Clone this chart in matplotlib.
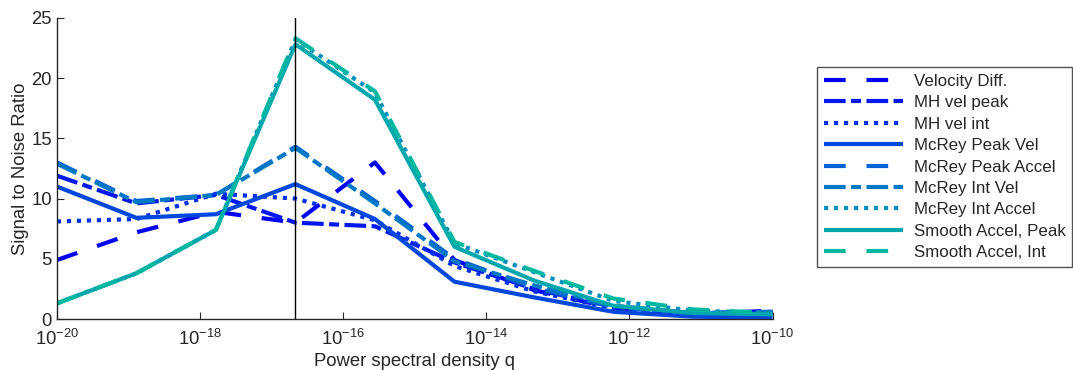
import numpy as np
import matplotlib
matplotlib.use("Agg")
import matplotlib.pyplot as plt

plt.rcParams['font.family'] = ['Liberation Sans', 'DejaVu Sans']
plt.rcParams['mathtext.fontset'] = 'custom'
plt.rcParams['mathtext.rm'] = 'Liberation Sans'
plt.rcParams['mathtext.it'] = 'Liberation Sans:italic'
plt.rcParams['mathtext.bf'] = 'Liberation Sans:bold'
plt.rcParams['axes.unicode_minus'] = False

# power spectral density values (10 log-spaced points)
q = np.logspace(-20, -10, 10)
q_marker = q[3]

labels = ['Velocity Diff.', 'MH vel peak', 'MH vel int', 'McRey Peak Vel',
          'McRey Peak Accel', 'McRey Int Vel', 'McRey Int Accel',
          'Smooth Accel, Peak', 'Smooth Accel, Int']

vel_diff = [4.9, 7.2, 8.9, 8.0, 13.0, 4.9, 2.4, 0.9, 0.4, 0.7]
mh_vel_peak = [11.9, 9.6, 10.3, 8.0, 7.7, 4.7, 2.5, 1.0, 0.5, 0.6]
mh_vel_int = [8.1, 8.3, 10.4, 10.0, 8.2, 4.4, 2.3, 0.9, 0.4, 0.5]
mcrey_peak_vel = [11.0, 8.4, 8.7, 11.2, 8.3, 3.1, 1.8, 0.6, 0.2, 0.1]
mcrey_peak_accel = [13.0, 9.8, 10.3, 14.3, 9.8, 5.0, 2.6, 1.0, 0.5, 0.5]
mcrey_int_vel = [12.9, 9.7, 10.3, 14.2, 9.6, 4.8, 2.8, 1.1, 0.5, 0.6]
mcrey_int_accel = [1.3, 3.8, 7.4, 23.2, 18.8, 6.3, 3.9, 1.5, 0.7, 0.5]
smooth_peak = [1.3, 3.8, 7.4, 22.8, 18.2, 6.0, 3.2, 1.1, 0.5, 0.4]
smooth_int = [1.3, 3.8, 7.4, 23.3, 18.9, 6.4, 4.0, 1.7, 0.8, 0.5]

series = [vel_diff, mh_vel_peak, mh_vel_int, mcrey_peak_vel, mcrey_peak_accel,
          mcrey_int_vel, mcrey_int_accel, smooth_peak, smooth_int]

colors = ['#0000f5', '#0018ee', '#0030e6', '#0048de', '#0062d4',
          '#0078c8', '#008fbd', '#00a8ae', '#00b8a2']

# MATLAB-like line styles: --, -., :, - cycling
dash = (0, (5.2, 5.0))
dashdot = (0, (5.2, 1.3, 2.4, 1.3))
dot = (0, (1.0, 1.4))
styles = [dash, dashdot, dot, '-', dash, dashdot, dot, '-', dash]

ink = '#262626'
fs = 13.3
leg_fs = 12.2

fig = plt.figure(figsize=(10.73, 3.71), dpi=100)
ax = fig.add_axes([0.053, 0.140, 0.667, 0.812])

handles = []
for y, lab, c, ls in zip(series, labels, colors, styles):
    h, = ax.plot(q, y, color=c, linestyle=ls, linewidth=3.0, label=lab,
                 dash_capstyle='butt', solid_capstyle='butt')
    handles.append(h)

ax.axvline(q_marker, color='black', linewidth=1.0)

ax.set_xscale('log')
ax.set_xlim(1e-20, 1e-10)
ax.set_ylim(0, 25)
ax.set_xticks([1e-20, 1e-18, 1e-16, 1e-14, 1e-12, 1e-10])
ax.set_yticks([0, 5, 10, 15, 20, 25])

ax.spines['top'].set_visible(False)
ax.spines['right'].set_visible(False)
for s in ['left', 'bottom']:
    ax.spines[s].set_color(ink)
    ax.spines[s].set_linewidth(1.0)

ax.tick_params(which='both', direction='in', colors=ink, labelsize=fs)
ax.tick_params(which='major', length=5)
ax.tick_params(which='minor', length=3)
ax.tick_params(axis='x', which='both', pad=7)

ax.set_xlabel('Power spectral density q', fontsize=fs, color=ink, labelpad=3)
ax.set_ylabel('Signal to Noise Ratio', fontsize=fs, color=ink, labelpad=2)

leg = fig.legend(handles=handles, loc='upper left',
                 bbox_to_anchor=(0.7614, 0.8194), borderaxespad=0,
                 fontsize=leg_fs, frameon=True, fancybox=False, handlelength=4.7,
                 labelspacing=0.38, borderpad=0.4, handletextpad=0.6)
leg.get_frame().set_edgecolor(ink)
leg.get_frame().set_linewidth(1.0)
for t in leg.get_texts():
    t.set_color(ink)

fig.savefig('out.png', dpi=100)
